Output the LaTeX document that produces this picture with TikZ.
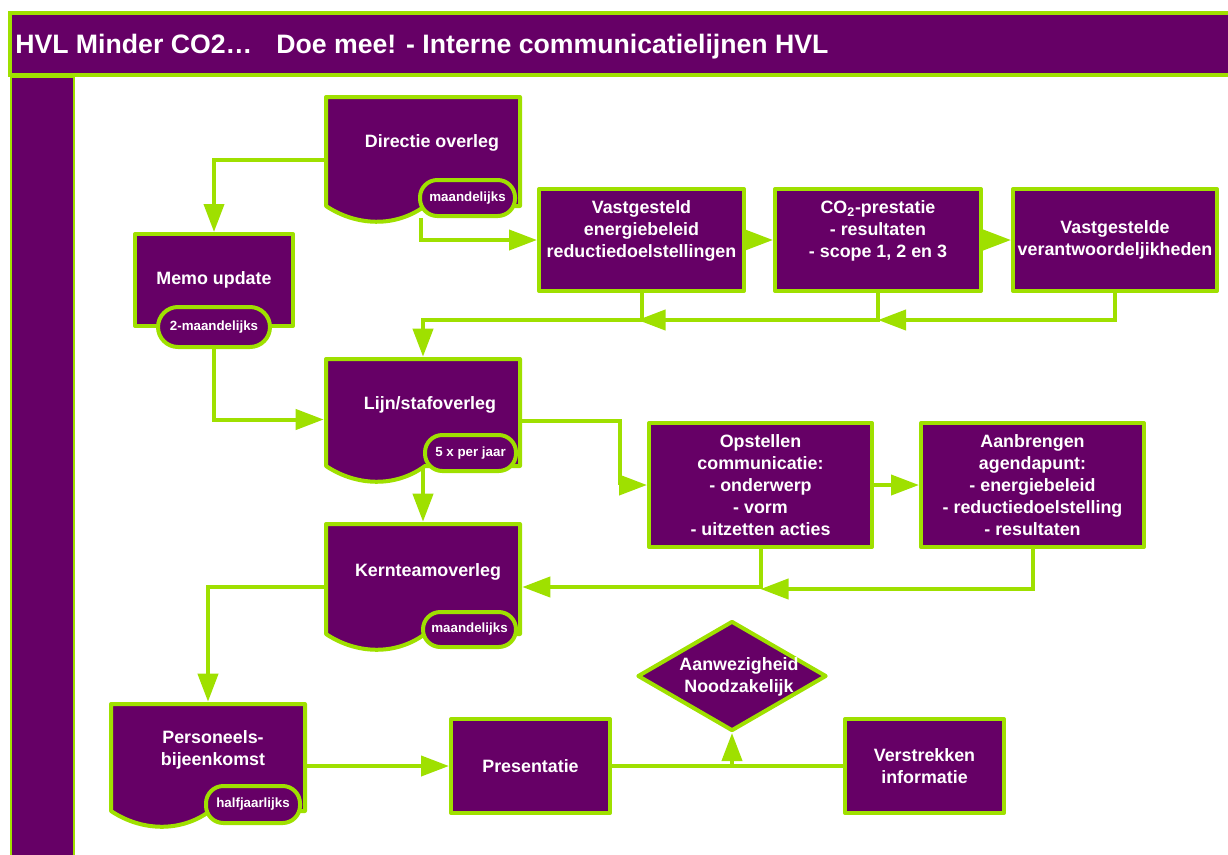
\documentclass[tikz,border=0pt]{standalone}
\usepackage{fontspec}
\setmainfont{Liberation Sans}
\usetikzlibrary{arrows.meta,shapes.geometric,calc,fit,backgrounds}
\definecolor{hvlpurple}{HTML}{660066}
\definecolor{hvlgreen}{HTML}{9FE000}
\newcommand\docshape[5]{%
  \node[inner sep=0pt,fit={(#2,#3)(#4,#5)}] (#1) {};
  \draw[doc] (#2+2,#3+2) -- (#4-2,#3+2) -- (#4-2,#5-2) -- (#4-97,#5-2)
    .. controls (#4-127,#5+20) and (#2+32,#5+18) .. (#2+2,#5-2) -- cycle;
}
\begin{document}
\begin{tikzpicture}[x=0.75pt,y=-0.75pt,
  txt/.style={text=white,font=\fontsize{13.4}{16.5}\selectfont\bfseries,align=center},
  box/.style={draw=hvlgreen,fill=hvlpurple,line width=3pt,line join=round,txt,inner sep=0pt},
  sz/.style 2 args={minimum width=#1*0.75pt,minimum height=#2*0.75pt},
  tag/.style={draw=hvlgreen,fill=hvlpurple,line width=3pt,rounded corners=13pt,text=white,
    font=\fontsize{10}{12}\selectfont\bfseries,inner sep=0pt},
  doc/.style={draw=hvlgreen,fill=hvlpurple,line width=3pt,line join=round},
  conn/.style={draw=hvlgreen,line width=3pt},
  arr/.style={conn,-{Triangle[length=21pt,width=15pt]}},
]
\useasboundingbox (0,0) rectangle (1228,854);
% frame
\draw[draw=hvlgreen,fill=hvlpurple,line width=2pt] (11,77) rectangle (74,880);
\draw[draw=hvlgreen,fill=hvlpurple,line width=2.5pt] (10,13) rectangle (1245,75);
\node[anchor=base west,text=white,font=\fontsize{20}{24}\selectfont\bfseries,inner sep=0pt]
  (title) at (15,53) {HVL Minder CO2…\hspace{0.9em}Doe mee! - Interne communicatielijnen HVL};

% document shapes
\docshape{dir}{324}{95}{522}{208}
\docshape{lijn}{324}{357}{522}{468}
\docshape{kern}{324}{522}{522}{636}
\docshape{pers}{109}{702}{307}{813}
\node[txt] (dirT) at (432,143) {Directie overleg};
\node[txt] (lijnT) at (430,405) {Lijn/stafoverleg};
\node[txt] (kernT) at (428,572) {Kernteamoverleg};
\node[txt] (persT) at (213,750) {Personeels-\\bijeenkomst};

% boxes
\node[box,sz={158}{92}] (memo) at (214,280) {Memo update};
\node[box,sz={205}{102}] (vast) at (641.5,240) {Vastgesteld\\energiebeleid\\reductiedoelstellingen\\\mbox{}};
\node[box,sz={206}{102}] (co2) at (878,240) {CO\textsubscript{2}-prestatie\\- resultaten\\- scope 1, 2 en 3\\\mbox{}};
\node[box,sz={204}{102}] (ver) at (1115,240) {Vastgestelde\\verantwoordeljikheden};
\node[box,sz={223}{124}] (ops) at (760.5,485) {Opstellen\\communicatie:\\- onderwerp\\- vorm\\- uitzetten acties};
\node[box,sz={223}{124}] (aan) at (1032.5,485) {Aanbrengen\\agendapunt:\\- energiebeleid\\- reductiedoelstelling\\- resultaten};
\node[box,sz={159}{94}] (pres) at (530.5,766) {Presentatie};
\node[box,sz={159}{94}] (vers) at (924.5,766) {Verstrekken\\informatie};
\node[draw=hvlgreen,fill=hvlpurple,line width=3pt,line join=round,diamond,aspect=1.7,
  inner sep=0pt,minimum width=189*0.75pt,minimum height=110*0.75pt] (dia) at (732,676) {};
\node[txt] (diaT) at (739,677) {Aanwezigheid\\Noodzakelijk};

% tags
\node[tag,sz={95}{36}] (dtag) at (467.5,198) {maandelijks};
\node[tag,sz={112}{40},rounded corners=15pt] (mtag) at (214,327) {2-maandelijks};
\node[tag,sz={91}{36}] (ltag) at (470.5,453) {5 x per jaar};
\node[tag,sz={93}{35}] (ktag) at (469.5,629.5) {maandelijks};
\node[tag,sz={94}{37}] (ptag) at (253,804.5) {halfjaarlijks};

% connectors
\begin{scope}[on background layer]
\draw[arr] ($(dir.north west)+(0,65)$) -| (memo.north);
\draw[arr] ($(dtag.south west)+(3,0)$) |- (vast.west);
\draw[arr] (vast.east) -- (co2.west);
\draw[arr] (co2.east) -- (ver.west);
\draw[arr] (ver.south) |- ($(co2.south)+(0,27)$);
\draw[arr] (co2.south) |- ($(vast.south)+(-4,27)$);
\draw[arr] (vast.south) -- ++(0,27) -| (lijn.north);
\draw[arr] (mtag.south) |- ($(lijn.west)+(0,7)$);
\draw[arr] (kern.north |- ltag.center) -- (kern.north);
\draw[arr] ([yshift=-6pt]lijn.east) -| ([xshift=-20pt]ops.west) -- (ops.west);
\draw[arr] (ops.east) -- (aan.west);
\draw[arr] (aan.south) |- ($(ops.south)+(0,40)$);
\draw[arr] (ops.south) |- ($(kern.east)+(0,8)$);
\draw[arr] ($(kern.west)+(0,8)$) -| (pers.north);
\draw[arr] (pers.east |- pres.west) -- (pres.west);
\draw[conn] (pres.east) -- (vers.west);
\draw[arr] (pres.east -| dia.south) -- (dia.south);
\end{scope}
\end{tikzpicture}
\end{document}
